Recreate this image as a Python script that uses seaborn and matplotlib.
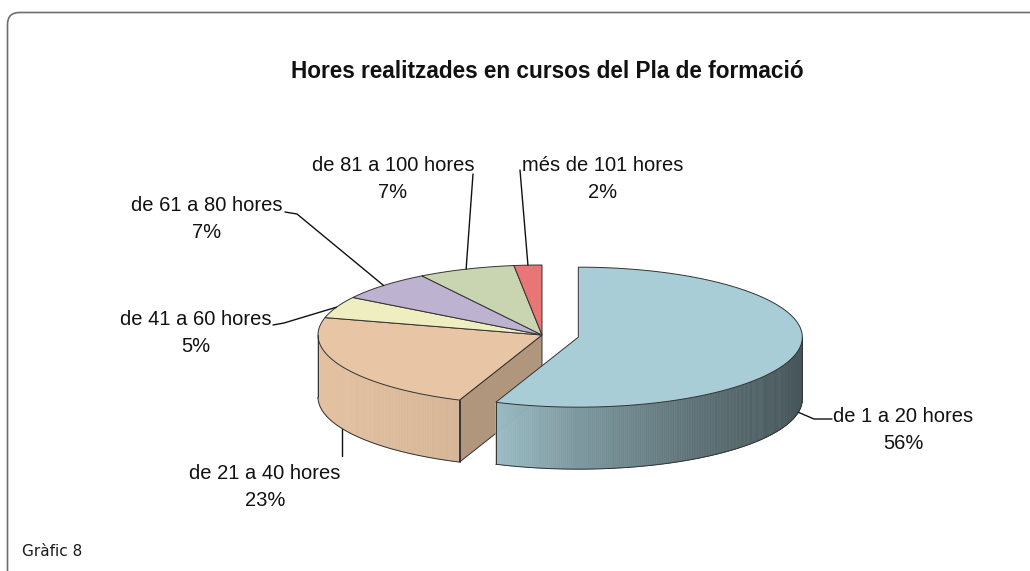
import numpy as np
import matplotlib
matplotlib.use("Agg")
import matplotlib.pyplot as plt
from matplotlib.patches import Polygon, FancyBboxPatch
from matplotlib.collections import PolyCollection
from matplotlib.colors import to_rgb
from matplotlib import font_manager
import seaborn as sns

# Data
categories = ["de 1 a 20 hores", "de 21 a 40 hores", "de 41 a 60 hores",
              "de 61 a 80 hores", "de 81 a 100 hores", "més de 101 hores"]
percent = [56, 23, 5, 7, 7, 2]
colors = ["#a8cdd6", "#e8c5a4", "#eeeec0", "#bdb3d0", "#c9d5b1", "#e87676"]
exploded = [True, False, False, False, False, False]
title = "Hores realitzades en cursos del Pla de formació"
caption = "Gràfic 8"

sns.set_theme(style="white")
names = {f.name for f in font_manager.fontManager.ttflist}
narrow = "Liberation Sans Narrow" in names
plt.rcParams["font.family"] = ["Liberation Sans Narrow" if narrow else "Liberation Sans", "DejaVu Sans"]
lab_size = 17.5 if narrow else 14.5
title_size = 19.5 if narrow else 16.3

fig = plt.figure(figsize=(10.30, 5.71), dpi=100)
ax = fig.add_axes([0, 0, 1, 1])
ax.set_xlim(0, 1030)
ax.set_ylim(571, 0)
ax.axis("off")

# frame + caption
ax.add_patch(FancyBboxPatch((7.5, 12.5), 1040, 600, boxstyle="round,pad=0,rounding_size=12",
                            fc="none", ec="#6e6e6e", lw=1.2))
ax.text(22, 551, caption, fontsize=11, family="DejaVu Sans", va="center", ha="left", color="#1a1a1a")
ax.text(547, 78, title, fontsize=title_size, fontweight="bold", ha="center", va="baseline", color="#111111")

# pie geometry (pixels)
cx, cy, rx, ry, depth = 542, 335, 224, 70, 62
explode = 0.165

vals = np.array(percent, dtype=float)
cum = np.concatenate([[0], np.cumsum(vals)]) / vals.sum()
theta_hi = np.pi / 2 - 2 * np.pi * cum[:-1]
theta_lo = np.pi / 2 - 2 * np.pi * cum[1:]
mid = (theta_hi + theta_lo) / 2
n = len(vals)


def pt(x0, y0, t, z=0.0):
    return x0 + rx * np.cos(t), y0 - ry * np.sin(t) + z


def darker(c, f):
    r, g, b = to_rgb(c)
    return (min(r * f, 1), min(g * f, 1), min(b * f, 1))


def shade(t):
    return np.interp(np.cos(t), [-1, -0.37, 0, 0.57, 1], [0.98, 0.92, 0.74, 0.54, 0.42])


def center(i):
    if exploded[i]:
        return cx + explode * rx * np.cos(mid[i]), cy - explode * ry * np.sin(mid[i])
    return cx, cy


def draw_sides(i):
    x0, y0 = center(i)
    a, b = theta_lo[i], theta_hi[i]
    t = np.linspace(a, b, max(int(np.degrees(b - a) * 2), 2) + 1)
    quads, fcs, vis = [], [], []
    for t0, t1 in zip(t[:-1], t[1:]):
        tm = (t0 + t1) / 2
        v = np.sin(tm) < 0
        vis.append(v)
        if not v:
            continue
        xa, ya = pt(x0, y0, t0)
        xb, yb = pt(x0, y0, t1)
        quads.append([(xa, ya), (xb, yb), (xb, yb + depth), (xa, ya + depth)])
        fcs.append(darker(colors[i], shade(tm)))
    if quads:
        ax.add_collection(PolyCollection(quads, facecolors=fcs, edgecolors=fcs, linewidths=0.4))
    # outline of visible runs
    vis = np.array(vis)
    k = 0
    while k < len(vis):
        if vis[k]:
            j = k
            while j < len(vis) and vis[j]:
                j += 1
            tt = t[k:j + 1]
            xs, ys = pt(x0, y0, tt, depth)
            ax.plot(xs, ys, color="#333333", lw=0.7)
            for te in (tt[0], tt[-1]):
                xe, ye = pt(x0, y0, te)
                ax.plot([xe, xe], [ye, ye + depth], color="#333333", lw=0.7)
            k = j
        else:
            k += 1
    # radial cut faces next to an exploded neighbour
    for te, nb, visible in [(b, (i - 1) % n, np.cos(b) < -1e-9), (a, (i + 1) % n, np.cos(a) > 1e-9)]:
        if visible and (exploded[i] or exploded[nb]):
            xe, ye = pt(x0, y0, te)
            ax.add_patch(Polygon([(x0, y0), (xe, ye), (xe, ye + depth), (x0, y0 + depth)],
                                 closed=True, fc=darker(colors[i], 0.76), ec="#333333", lw=0.7))


def draw_top(i):
    x0, y0 = center(i)
    t = np.linspace(theta_lo[i], theta_hi[i], 200)
    xs, ys = pt(x0, y0, t)
    verts = [(x0, y0)] + list(zip(xs, ys))
    ax.add_patch(Polygon(verts, closed=True, fc=colors[i], ec="#333333", lw=0.7))


main = [i for i in range(n) if not exploded[i]]
out = [i for i in range(n) if exploded[i]]
for group in (main, out):
    for i in group:
        draw_sides(i)
    for i in group:
        draw_top(i)

# labels with leader lines (leader path: text side -> pie anchor)
label_pos = [(903, 430), (265, 487), (196, 333), (207, 219), (393, 179), (603, 179)]
leader_pts = [[(832, 419), (814, 419)], None, [(273, 325), (284, 323)],
              [(285, 212), (297, 214)], [(473, 174)], [(520, 170)]]
for i in range(n):
    x0, y0 = center(i)
    z = depth if np.sin(mid[i]) < 0 else 0
    axp, ayp = pt(x0, y0, mid[i], z)
    if leader_pts[i] is None:
        path = [(axp, 456)]
    else:
        path = leader_pts[i]
    xs = [p[0] for p in path] + [axp]
    ys = [p[1] for p in path] + [ayp]
    ax.plot(xs, ys, color="#111111", lw=1)
    ax.text(label_pos[i][0], label_pos[i][1], f"{categories[i]}\n{percent[i]}%",
            ha="center", va="center", fontsize=lab_size, linespacing=1.5, color="#111111")

fig.savefig("out.png", dpi=100)
